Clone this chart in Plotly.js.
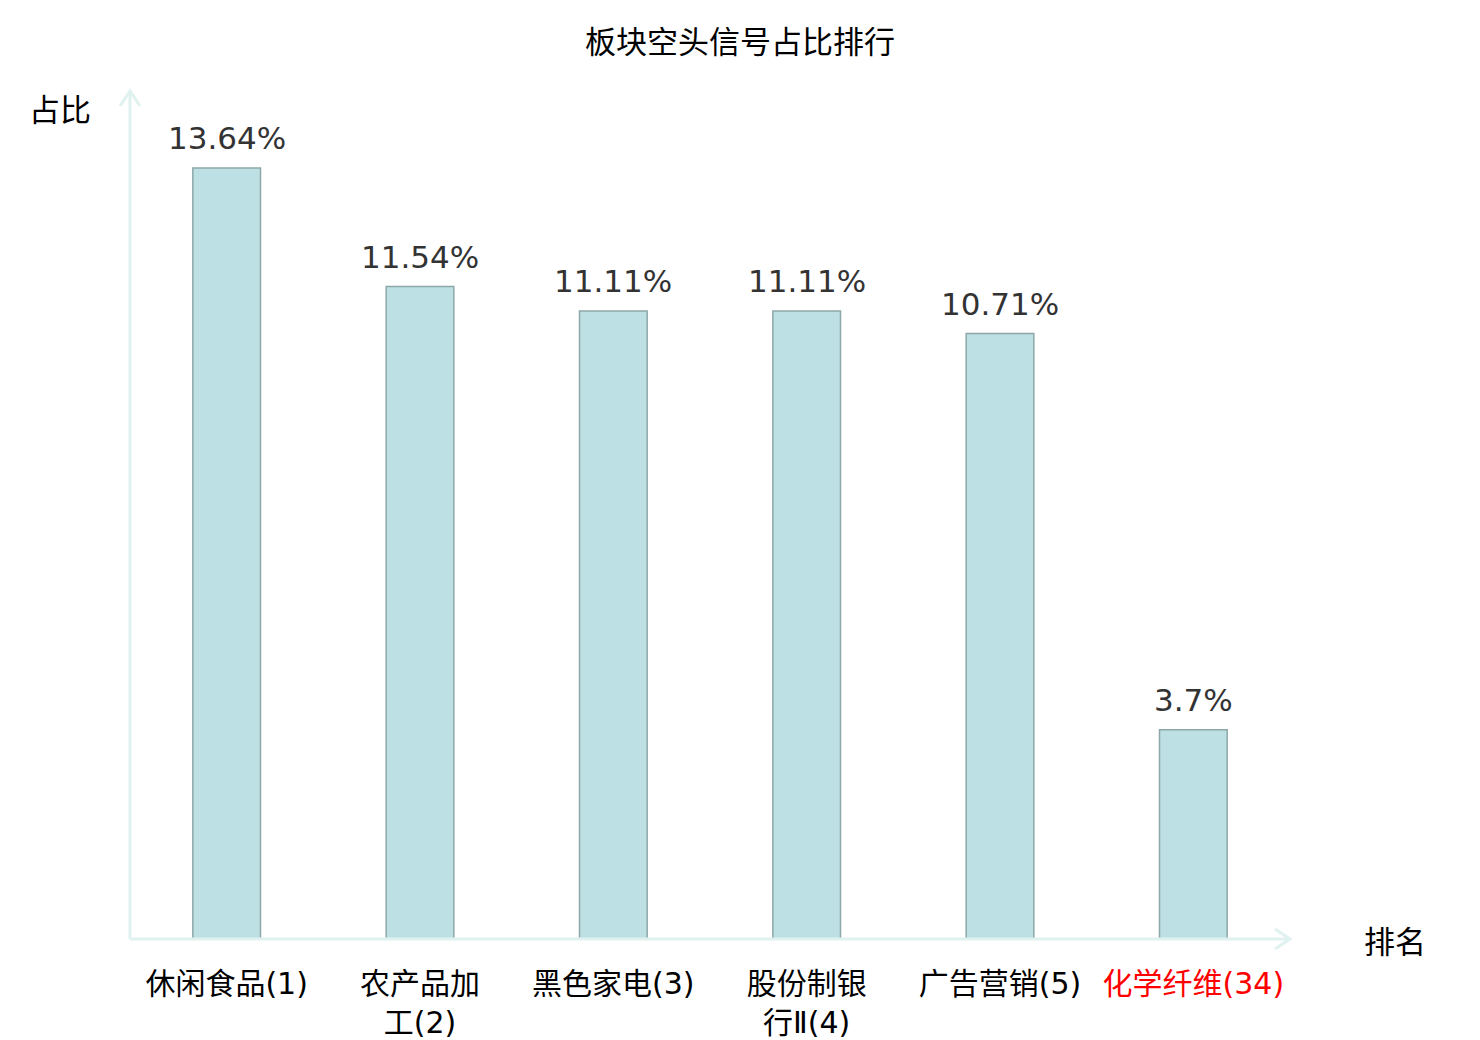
<!DOCTYPE html>
<html>
<head>
<meta charset="utf-8">
<script src="https://cdn.plot.ly/plotly-3.0.1.min.js"></script>
<style>
  html, body { margin: 0; padding: 0; background: #fff; }
  #graph { width: 1480px; height: 1040px; }
</style>
</head>
<body>
<div id="graph"></div>
<script>
// Sector short-signal share ranking

const categories = ["休闲食品(1)", "农产品加工(2)", "黑色家电(3)", "股份制银行Ⅱ(4)", "广告营销(5)", "化学纤维(34)"];
const tickLabels = [
  "休闲食品(1)",
  "农产品加<br>工(2)",
  "黑色家电(3)",
  "股份制银<br>行Ⅱ(4)",
  "广告营销(5)",
  "<span style='color:red'>化学纤维(34)</span>",
];
const shares = [13.64, 11.54, 11.11, 11.11, 10.71, 3.7];
const shareLabels = ["13.64%", "11.54%", "11.11%", "11.11%", "10.71%", "3.7%"];

const fontFamily = "DejaVu Sans, Noto Sans CJK SC, sans-serif";
const axisColor = "#dff2ef";

const trace = {
  x: categories,
  y: shares,
  type: "bar",
  marker: {
    color: "#bce0e3",
    line: { color: "#8ea8a9", width: 1.5 },
  },
  hoverinfo: "none",
};

const valueNotes = categories.map((c, i) => ({
  x: c,
  y: shares[i],
  text: shareLabels[i],
  showarrow: false,
  yanchor: "bottom",
  yshift: 10,
  font: { size: 31, color: "#333333", family: fontFamily },
}));

const layout = {
  width: 1480,
  height: 1040,
  paper_bgcolor: "#ffffff",
  plot_bgcolor: "#ffffff",
  font: { family: fontFamily, size: 28, color: "#000000" },
  title: {
    text: "板块空头信号占比排行",
    x: 0.5,
    xanchor: "center",
    y: 1 - 42 / 1040,
    yanchor: "middle",
    font: { size: 31, color: "#000000", family: fontFamily },
  },
  margin: { l: 130, r: 190, t: 91, b: 101 },
  bargap: 0.65,
  showlegend: false,
  xaxis: {
    type: "category",
    tickvals: categories,
    ticktext: tickLabels,
    showgrid: false,
    zeroline: false,
    showline: false,
    ticks: "outside",
    ticklen: 18,
    tickcolor: "rgba(0,0,0,0)",
    tickfont: { size: 30, color: "#000000", family: fontFamily },
  },
  yaxis: {
    range: [0, 15],
    showgrid: false,
    zeroline: false,
    showline: false,
    showticklabels: false,
    ticks: "",
  },
  shapes: [
    // x axis line and arrow
    { type: "line", xref: "paper", yref: "paper", x0: 0, x1: 1, y0: 0, y1: 0,
      line: { color: axisColor, width: 3 } },
    { type: "path", xref: "paper", yref: "paper", xsizemode: "pixel", ysizemode: "pixel",
      xanchor: 1, yanchor: 0, path: "M -15 10 L 0 0 L -15 -10",
      line: { color: axisColor, width: 3 } },
    // y axis line and arrow
    { type: "line", xref: "paper", yref: "paper", x0: 0, x1: 0, y0: 0, y1: 1,
      line: { color: axisColor, width: 3 } },
    { type: "path", xref: "paper", yref: "paper", xsizemode: "pixel", ysizemode: "pixel",
      xanchor: 0, yanchor: 1, path: "M -10 -15 L 0 0 L 10 -15",
      line: { color: axisColor, width: 3 } },
  ],
  annotations: valueNotes.concat([
    { xref: "paper", yref: "paper", x: -37 / 1160, y: 1 - 19 / 848, xanchor: "right", yanchor: "middle",
      text: "占比", showarrow: false, font: { size: 31, color: "#000000", family: fontFamily } },
    { xref: "paper", yref: "paper", x: 1 + 72 / 1160, y: -3 / 848, xanchor: "left", yanchor: "middle",
      text: "排名", showarrow: false, font: { size: 31, color: "#000000", family: fontFamily } },
  ]),
};

Plotly.newPlot("graph", [trace], layout, { staticPlot: true });
</script>
</body>
</html>
